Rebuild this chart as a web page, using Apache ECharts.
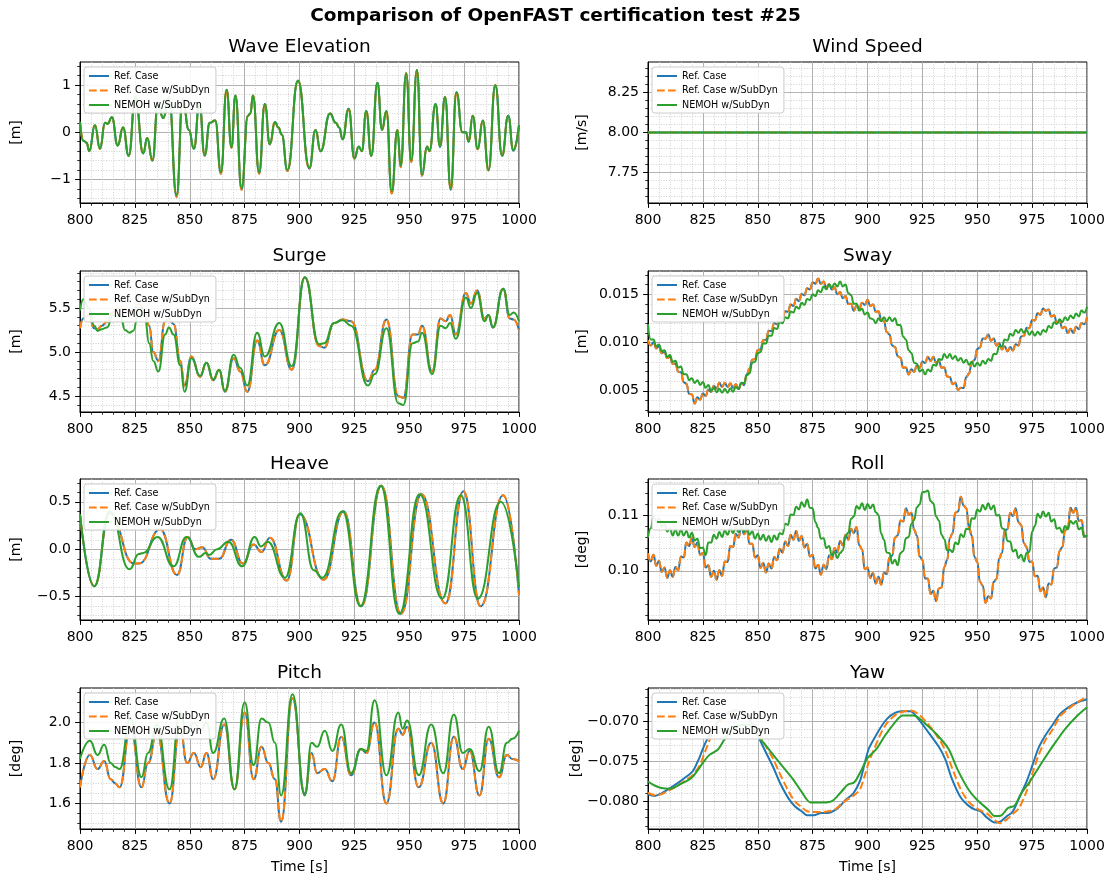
<!DOCTYPE html>
<html><head><meta charset="utf-8">
<script src="https://cdn.jsdelivr.net/npm/echarts@6/dist/echarts.min.js"></script>
<style>html,body{margin:0;padding:0;background:#fff}#c{width:1111px;height:878px}</style>
</head><body><div id="c"></div>
<script>
// ---------------- DATA ----------------
const seriesNames = ['Ref. Case', 'Ref. Case w/SubDyn', 'NEMOH w/SubDyn'];
const panelTitles = ['Wave Elevation', 'Wind Speed', 'Surge', 'Sway', 'Heave', 'Roll', 'Pitch', 'Yaw'];
const panelUnits = ['[m]', '[m/s]', '[m]', '[m]', '[m]', '[deg]', '[deg]', '[deg]'];
const xTickLabels = [800, 825, 850, 875, 900, 925, 950, 975, 1000];
const yMin = [-1.5, 7.56, 4.32, 0.0028, -0.745, 0.0911, 1.474, -0.0834];
const yMax = [1.49, 8.44, 5.92, 0.0174, 0.74, 0.1166, 2.171, -0.0659];
const yTicks = [[-1, 0, 1], [7.75, 8.0, 8.25], [4.5, 5.0, 5.5], [0.005, 0.010, 0.015], [-0.5, 0, 0.5], [0.10, 0.11], [1.6, 1.8, 2.0], [-0.080, -0.075, -0.070]];
const yDecimals = [0, 2, 1, 3, 1, 2, 1, 3];
const windMinorExtra = [7.6, 7.8, 8.2, 8.4];

// Wave elevation (turning points)
const waveT = [800,801.5,803,804.2,806.8,809.1,811.4,812.6,814.5,817.2,819.6,822.2,825.2,828.8,830.6,833,835.5,837.9,840.5,844,846.8,849.6,851.9,854.4,856.8,859.1,861.6,864.2,866.8,869,870.8,873.6,876.5,877.6,878.8,881.6,884.2,886.5,888.8,890.4,891.9,894.5,899.3,904.5,907.3,909.6,913.9,916.5,918.1,919.6,922.4,925,927,928.4,930.4,932.7,935.5,937.6,939.6,942,944.6,946.1,948.6,950.9,953.5,955.8,958.1,959.2,962,964,966.3,968.9,971.5,974.2,975.8,977.1,978.9,981.2,983.5,986.1,989.2,992.3,995.1,997.4,1000];
const waveRef = [0.22,-0.18,-0.22,-0.4,0.15,-0.35,0.2,0.18,0.32,-0.28,0.1,-0.5,0.75,-0.45,-0.12,-0.6,0.6,0.3,0.75,-1.37,0.7,0.05,-0.35,0.6,-0.5,0.2,0.25,-0.88,0.9,-0.33,0.78,-1.22,0.35,0.4,0.78,-0.88,0.6,-0.26,0.22,0.1,-0.05,-0.82,1.1,-0.77,0.05,-0.4,0.4,0.2,0.1,-0.15,0.5,-0.56,-0.3,-0.4,0.45,-0.5,1.05,0.05,0.45,-1.3,0.05,-0.74,1.25,-0.63,1.32,-0.92,-0.3,-0.4,0.6,-0.31,0.75,-1.22,0.85,0.0,0.0,-0.2,0.35,-0.36,0.25,-0.81,1.0,-0.5,0.35,-0.39,0.15];
const waveNemoh = [0.22,-0.18,-0.22,-0.4,0.15,-0.35,0.2,0.18,0.32,-0.28,0.1,-0.5,0.75,-0.45,-0.12,-0.6,0.6,0.3,0.75,-1.33,0.7,0.05,-0.35,0.6,-0.48,0.2,0.25,-0.85,0.9,-0.32,0.78,-1.18,0.35,0.4,0.78,-0.85,0.6,-0.25,0.22,0.1,-0.05,-0.8,1.1,-0.75,0.05,-0.4,0.4,0.2,0.1,-0.15,0.5,-0.55,-0.3,-0.4,0.45,-0.5,1.05,0.05,0.45,-1.25,0.05,-0.7,1.25,-0.6,1.32,-0.9,-0.3,-0.4,0.6,-0.3,0.75,-1.2,0.85,0.0,0.0,-0.2,0.35,-0.35,0.25,-0.8,1.0,-0.5,0.35,-0.38,0.15];

// Wind speed (constant)
const windT = [800, 1000];
const windRef = [8.0, 8.0];
const windSub = [8.0, 8.0];
const windNemoh = [8.0, 8.0];

// Surge
const surgeT = [800,801.5,804,806.5,808,810,812.3,815,818.5,820.5,822.6,824.2,827,829.5,831.5,833.4,835.7,838.8,840.5,842.6,845.7,847.6,850.8,854.7,857.6,860.7,863.4,866,870,873,876.2,880.7,884.2,890.8,896.5,902.4,908.9,911.2,915.8,919.6,923.5,931.2,934.3,939.6,945,947.3,951.5,954,955.8,960.4,964.3,966.6,968.6,971.2,975.8,978.1,980.9,984.3,986.1,988.1,992.8,995.8,997.5,1000];
const surgeRef = [5.27,5.38,5.42,5.27,5.26,5.3,5.34,5.45,5.5,5.48,5.45,5.47,5.55,5.45,5.3,5.0,4.9,5.35,5.38,5.32,4.9,4.62,4.95,4.72,4.88,4.68,4.8,4.55,4.93,4.78,4.55,5.13,4.85,5.25,4.8,5.85,5.07,5.05,5.33,5.37,5.35,4.67,4.8,5.37,4.5,4.48,5.2,5.2,5.3,4.78,5.38,5.35,5.42,5.2,5.67,5.55,5.7,5.38,5.42,5.28,5.72,5.38,5.37,5.25];
const surgeNemoh = [5.47,5.6,5.5,5.3,5.24,5.26,5.28,5.42,5.4,5.25,5.22,5.24,5.5,5.4,5.1,4.9,4.78,5.2,5.28,5.2,4.85,4.55,4.93,4.73,4.88,4.69,4.8,4.56,4.97,4.82,4.62,5.22,4.95,5.33,4.84,5.85,5.09,5.1,5.33,5.36,5.3,4.62,4.75,5.27,4.42,4.4,5.1,5.12,5.22,4.75,5.3,5.27,5.33,5.15,5.62,5.5,5.67,5.35,5.42,5.28,5.72,5.42,5.45,5.35];

const rippleT = Array.from({length: 161}, (_, k) => 800 + 1.25 * k);
const swayRef = [0.01022,0.00968,0.01002,0.00938,0.00962,0.00888,0.00902,0.00838,0.00852,0.00778,
0.00782,0.00698,0.00692,0.00588,0.00572,0.00468,0.00462,0.00368,0.00432,0.00408,
0.00472,0.00448,0.00512,0.00488,0.00552,0.00523,0.00582,0.00538,0.00582,0.00538,
0.00577,0.00528,0.00567,0.00518,0.00577,0.00558,0.00672,0.00728,0.00822,0.00828,
0.00922,0.00928,0.01022,0.01028,0.01122,0.01118,0.01202,0.01188,0.01262,0.01248,
0.01322,0.01318,0.01392,0.01378,0.01452,0.01428,0.01502,0.01488,0.01562,0.01548,
0.01622,0.01608,0.01662,0.01608,0.01632,0.01568,0.01602,0.01548,0.01572,0.01498,
0.01522,0.01458,0.01482,0.01398,0.01402,0.01328,0.01382,0.01348,0.01412,0.01388,
0.01442,0.01378,0.01392,0.01318,0.01322,0.01238,0.01222,0.01108,0.01082,0.00968,
0.00952,0.00858,0.00842,0.00738,0.00742,0.00668,0.00722,0.00698,0.00762,0.00738,
0.00802,0.00788,0.00852,0.00808,0.00852,0.00788,0.00812,0.00738,0.00742,0.00648,
0.00642,0.00568,0.00582,0.00508,0.00532,0.00528,0.00642,0.00678,0.00792,0.00818,
0.00932,0.00948,0.01042,0.01038,0.01082,0.01018,0.01042,0.00968,0.00992,0.00928,
0.00962,0.00908,0.00952,0.00918,0.00982,0.00968,0.01062,0.01068,0.01152,0.01148,
0.01232,0.01228,0.01302,0.01288,0.01352,0.01328,0.01342,0.01268,0.01282,0.01208,
0.01222,0.01148,0.01162,0.01098,0.01142,0.01098,0.01162,0.01138,0.01202,0.01188,
0.01262];
const swayNemoh = [0.0119,0.0103,0.0103,0.0096,0.0098,0.0091,0.0092,0.0085,0.0087,0.0080,
0.0081,0.0074,0.0075,0.0067,0.0067,0.0061,0.0063,0.0058,0.0061,0.0056,
0.0059,0.0053,0.0056,0.0050,0.0053,0.00485,0.0052,0.0048,0.0052,0.0048,
0.00525,0.0049,0.0054,0.0052,0.0058,0.0058,0.0066,0.0068,0.0079,0.0080,
0.0089,0.0090,0.0099,0.0099,0.0107,0.0107,0.0115,0.0114,0.0121,0.0120,
0.0126,0.0125,0.0132,0.0131,0.0137,0.0135,0.0141,0.0139,0.0145,0.0144,
0.0150,0.0148,0.0154,0.0152,0.0158,0.0155,0.0160,0.0157,0.0161,0.0158,
0.0163,0.0158,0.0160,0.0151,0.0149,0.0140,0.0140,0.0133,0.0135,0.0129,
0.0131,0.0125,0.0124,0.0120,0.0125,0.0122,0.0126,0.0122,0.0126,0.0122,
0.0125,0.0118,0.0118,0.0106,0.0103,0.0092,0.0089,0.0079,0.0078,0.0070,
0.0072,0.0067,0.0072,0.0070,0.0077,0.0076,0.0083,0.0082,0.0088,0.0084,
0.0088,0.0083,0.0086,0.0081,0.0084,0.0079,0.0082,0.0077,0.0080,0.0075,
0.0079,0.0076,0.0081,0.0078,0.0083,0.0081,0.0088,0.0088,0.0096,0.0096,
0.0103,0.0102,0.0109,0.0107,0.0113,0.0110,0.0114,0.0110,0.0113,0.0108,
0.01115,0.0107,0.0111,0.0108,0.0113,0.0111,0.0117,0.0115,0.0121,0.0119,
0.0124,0.0121,0.0126,0.0123,0.0128,0.0125,0.0130,0.0127,0.0133,0.0131,
0.0137];
const rollRef = [0.1032,0.1017,0.1029,0.1009,0.1018,0.0998,0.1006,0.0987,0.1001,0.0989,
0.1007,0.1001,0.1026,0.1024,0.1051,0.1045,0.1060,0.1043,0.1051,0.1029,
0.1032,0.1006,0.1010,0.0989,0.1000,0.0984,0.1001,0.0991,0.1017,0.1016,
0.1045,0.1043,0.1067,0.1060,0.1081,0.1066,0.1076,0.1049,0.1049,0.1024,
0.1028,0.1005,0.1014,0.0997,0.1013,0.1004,0.1025,0.1019,0.1040,0.1033,
0.1053,0.1045,0.1065,0.1056,0.1072,0.1054,0.1063,0.1042,0.1049,0.1026,
0.1029,0.1004,0.1011,0.0993,0.1011,0.1003,0.1028,0.1021,0.1041,0.1033,
0.1054,0.1046,0.1065,0.1056,0.1076,0.1068,0.1079,0.1046,0.1039,0.1003,
0.1006,0.0987,0.0996,0.0977,0.0989,0.0975,0.0997,0.0994,0.1024,0.1027,
0.1060,0.1064,0.1091,0.1089,0.1113,0.1102,0.1105,0.1074,0.1064,0.1026,
0.1020,0.0986,0.0986,0.0958,0.0964,0.0945,0.0968,0.0970,0.1007,0.1019,
0.1059,0.1068,0.1105,0.1107,0.1134,0.1118,0.1113,0.1078,0.1064,0.1025,
0.1016,0.0980,0.0973,0.0942,0.0954,0.0950,0.0980,0.0985,0.1022,0.1032,
0.1073,0.1075,0.1105,0.1099,0.1113,0.1088,0.1083,0.1050,0.1043,0.1016,
0.1017,0.0990,0.0991,0.0963,0.0970,0.0952,0.0977,0.0975,0.1004,0.1006,
0.1036,0.1043,0.1073,0.1078,0.1114,0.1105,0.1114,0.1090,0.1092,0.1063,
0.1061];
const rollNemoh = [0.1060,0.1077,0.1098,0.1089,0.1095,0.1079,0.1085,0.1071,0.1077,0.1064,
0.1074,0.1064,0.1074,0.1064,0.1072,0.1060,0.1069,0.1055,0.1058,0.1041,
0.1042,0.1028,0.1051,0.1051,0.1065,0.1058,0.1070,0.1061,0.1073,0.1065,
0.1077,0.1068,0.1080,0.1070,0.1080,0.1070,0.1080,0.1065,0.1071,0.1058,
0.1067,0.1056,0.1065,0.1054,0.1063,0.1052,0.1064,0.1056,0.1068,0.1066,
0.1085,0.1083,0.1102,0.1101,0.1116,0.1111,0.1124,0.1116,0.1129,0.1114,
0.1113,0.1088,0.1078,0.1058,0.1059,0.1041,0.1045,0.1028,0.1034,0.1023,
0.1032,0.1037,0.1063,0.1069,0.1094,0.1098,0.1117,0.1112,0.1122,0.1110,
0.1121,0.1113,0.1120,0.1106,0.1101,0.1067,0.1056,0.1033,0.1032,0.1013,
0.1020,0.1010,0.1032,0.1036,0.1059,0.1061,0.1085,0.1092,0.1115,0.1120,
0.1142,0.1143,0.1145,0.1126,0.1122,0.1098,0.1091,0.1065,0.1057,0.1037,
0.1038,0.1034,0.1051,0.1048,0.1066,0.1061,0.1076,0.1075,0.1095,0.1094,
0.1111,0.1107,0.1119,0.1111,0.1122,0.1111,0.1118,0.1100,0.1101,0.1077,
0.1075,0.1054,0.1053,0.1035,0.1038,0.1023,0.1029,0.1017,0.1032,0.1034,
0.1071,0.1081,0.1103,0.1096,0.1107,0.1098,0.1105,0.1089,0.1093,0.1076,
0.1078,0.1069,0.1081,0.1075,0.1090,0.1085,0.1090,0.1075,0.1078,0.1061,
0.1065];

// Heave
const heaveRefT = [800,806.5,813.5,824.5,827,836.5,844.2,849.1,852.5,855.7,859.6,863.4,868.8,874.2,879.1,882.7,886.5,894.2,900.1,911,920.1,928.1,937.3,946.2,955.5,966.5,974.7,982.5,992.8,1000];
const heaveRef = [0.37,-0.39,0.38,-0.15,-0.15,0.21,-0.27,0.13,0.0,0.02,-0.1,-0.1,0.1,-0.15,0.05,-0.03,0.12,-0.33,0.37,-0.32,0.4,-0.6,0.67,-0.68,0.58,-0.57,0.61,-0.6,0.57,-0.48];
const heaveNemohT = [800,806.5,813.5,822.6,826.8,828.8,835.3,842.6,848.5,854.2,857.3,858.8,862.5,867.6,873.9,879.6,882.4,885.5,893.4,900.4,906.5,910.4,919.6,927.8,937,945.5,954.7,965,973.5,981.2,991.7,1000];
const heaveNemoh = [0.37,-0.39,0.4,-0.21,-0.05,-0.04,0.13,-0.18,0.13,-0.08,-0.04,-0.06,0.0,0.08,-0.18,0.13,0.03,0.08,-0.3,0.38,-0.22,-0.3,0.4,-0.6,0.67,-0.68,0.58,-0.52,0.57,-0.52,0.5,-0.4];

// Pitch
const pitchT = [800,804.5,808,811,814,816,818,823,828,831,835,840.8,845.5,848.8,851.9,855,857.6,860.7,865.7,870.4,875,879.1,882.7,885.8,888.8,891.6,896.8,902.4,905.5,908,911.5,915,919,923.5,928,930.5,934.2,939.6,945,947,949,954.3,960,965.5,970.3,974.4,977.5,982,986.2,990.9,994.5,997,1000];
const pitchRef = [1.68,1.84,1.77,1.81,1.72,1.70,1.68,1.98,1.68,1.80,1.95,1.60,1.98,1.80,1.85,1.78,1.85,1.72,1.99,1.67,2.05,1.72,1.88,1.80,1.72,1.51,2.12,1.65,1.85,1.75,1.77,1.71,1.93,1.74,1.87,1.85,2.00,1.60,1.97,1.94,1.98,1.68,1.90,1.60,1.93,1.77,1.86,1.64,1.92,1.73,1.84,1.82,1.81];
const pitchNemoh = [1.82,1.91,1.84,1.89,1.80,1.78,1.77,2.02,1.73,1.85,1.99,1.67,2.05,1.95,2.00,1.96,2.00,1.85,2.02,1.67,2.10,1.79,2.02,2.00,1.90,1.64,2.14,1.64,1.90,1.88,1.96,1.86,1.99,1.75,1.87,1.86,2.11,1.74,2.05,1.97,2.01,1.74,1.99,1.75,2.04,1.85,1.87,1.76,1.98,1.75,1.90,1.92,1.96];

// Yaw
const yawT = [800,803,806,809,813,818,820.5,823.5,826,830,835,840,845,850,853,857,860,864,867,870,872.5,875.5,879,882,885,888,890,893.5,896.5,898.5,900.5,903,906,909,912.5,915.5,919.5,923,928,932.5,935.5,938.5,942.5,946,949,951.5,954.5,958,960.5,963.5,966,969,972.5,975.5,978,981,984.5,987.5,991,995.5,1000];
const yawRef = [-0.0791,-0.0793,-0.079,-0.0785,-0.0778,-0.0768,-0.0762,-0.0745,-0.0728,-0.0708,-0.0692,-0.0687,-0.0693,-0.0718,-0.0735,-0.0757,-0.0776,-0.0796,-0.0806,-0.0812,-0.0817,-0.0817,-0.0814,-0.0814,-0.0811,-0.0804,-0.0798,-0.079,-0.0775,-0.0755,-0.0735,-0.0722,-0.0708,-0.0697,-0.069,-0.0688,-0.0688,-0.0697,-0.0715,-0.0732,-0.0748,-0.0772,-0.0795,-0.0805,-0.081,-0.0812,-0.082,-0.0826,-0.0825,-0.0818,-0.0813,-0.0796,-0.0775,-0.0752,-0.0733,-0.0718,-0.0704,-0.0692,-0.0684,-0.0677,-0.0673];
const yawSub = [-0.0789,-0.0792,-0.0791,-0.0787,-0.0781,-0.0772,-0.0767,-0.0755,-0.0738,-0.0712,-0.0695,-0.0688,-0.0690,-0.0712,-0.0728,-0.0747,-0.0765,-0.0787,-0.0800,-0.0807,-0.0812,-0.0813,-0.0813,-0.0812,-0.0810,-0.0803,-0.0799,-0.0793,-0.0785,-0.0770,-0.0752,-0.0735,-0.0716,-0.0702,-0.0693,-0.0689,-0.0687,-0.0691,-0.0705,-0.0722,-0.0737,-0.0758,-0.0785,-0.0800,-0.0807,-0.0811,-0.0815,-0.0823,-0.0827,-0.0822,-0.0816,-0.0808,-0.0787,-0.0762,-0.0742,-0.0724,-0.0710,-0.0695,-0.0686,-0.0677,-0.0670];
const yawNemohT = [800,803,806,810,815,820,825,828,832,835,838,842,846,850,855,860,866,870,874,877,880,884,888,891,894,897,900,904,908,913,916,921,927,932,937,941,946,950,955,958,961,964,967,970,974,977,981,986,990,995,1000];
const yawNemoh = [-0.0775,-0.078,-0.0783,-0.0784,-0.0778,-0.0770,-0.0752,-0.0742,-0.0735,-0.0722,-0.0712,-0.0705,-0.0705,-0.0718,-0.0735,-0.0752,-0.0772,-0.0788,-0.0801,-0.0801,-0.0801,-0.0799,-0.0788,-0.0779,-0.0776,-0.0762,-0.0746,-0.0735,-0.0718,-0.0700,-0.0693,-0.0693,-0.0705,-0.0718,-0.0735,-0.0760,-0.0785,-0.0798,-0.0810,-0.0818,-0.0817,-0.0808,-0.0805,-0.0790,-0.0775,-0.0762,-0.0745,-0.0725,-0.0710,-0.0695,-0.0683];

// ---------------- BUILD ----------------
const pairs = (T, V) => T.map((t, i) => [t, V[i]]);
const panelData = [
  {s: [pairs(waveT, waveRef), pairs(waveT, waveRef), pairs(waveT, waveNemoh)], mode: 'peaks'},
  {s: [pairs(windT, windRef), pairs(windT, windSub), pairs(windT, windNemoh)], mode: 'flat'},
  {s: [pairs(surgeT, surgeRef), pairs(surgeT, surgeRef), pairs(surgeT, surgeNemoh)], mode: 'peaks'},
  {s: [pairs(rippleT, swayRef), pairs(rippleT, swayRef), pairs(rippleT, swayNemoh)], mode: 'peaks'},
  {s: [pairs(heaveRefT, heaveRef), pairs(heaveRefT, heaveRef), pairs(heaveNemohT, heaveNemoh)], mode: 'peaks'},
  {s: [pairs(rippleT, rollRef), pairs(rippleT, rollRef), pairs(rippleT, rollNemoh)], mode: 'peaks'},
  {s: [pairs(pitchT, pitchRef), pairs(pitchT, pitchRef), pairs(pitchT, pitchNemoh)], mode: 'peaks'},
  {s: [pairs(yawT, yawRef), pairs(yawT, yawSub), pairs(yawNemohT, yawNemoh)], mode: 'slow'}
];

const FONT = 'DejaVu Sans';
const colors = ['#1f77b4', '#ff7f0e', '#2ca02c'];
const lineTypes = ['solid', [7.7, 3.3], 'solid'];
const colLeft = [80, 648], rowTop = [62, 271, 479, 688], W = 439, H = 141;
const yAutoSplit = [3, 5, 3, 3, 3, 3, 3, 3];
const yMinorSplit = [5, 4, 5, 5, 5, 5, 4, 5];
const nameGaps = [57, 59];

const fmt = d => v => {
  let s = Math.abs(v) < 1e-12 ? (0).toFixed(d) : Number(v).toFixed(d);
  return s.replace('-', '\u2212');
};

const grids = [], xAxes = [], yAxes = [], legends = [], series = [];
const titles = [{
  text: 'Comparison of OpenFAST certification test #25', left: 'center', top: 7, padding: 0,
  textStyle: {fontSize: 18.5, fontWeight: 'bold', fontFamily: FONT, color: '#000'}
}];
const tickStyle = {color: '#000', width: 1};
for (let i = 0; i < 8; i++) {
  const col = i % 2, row = Math.floor(i / 2);
  const L = colLeft[col], T = rowTop[row];
  grids.push({left: L, top: T, width: W, height: H, show: true, borderColor: '#000', borderWidth: 1, backgroundColor: '#fff'});
  titles.push({text: panelTitles[i], left: L + W / 2, textAlign: 'center', top: T - 24, padding: 0,
    textStyle: {fontSize: 18.5, fontWeight: 'normal', fontFamily: FONT, color: '#000'}});
  xAxes.push({
    type: 'value', gridIndex: i, min: xTickLabels[0], max: xTickLabels[xTickLabels.length - 1],
    interval: xTickLabels[1] - xTickLabels[0],
    axisLine: {show: true, onZero: false, lineStyle: tickStyle},
    axisTick: {show: true, length: 4.9, lineStyle: tickStyle},
    minorTick: {show: true, splitNumber: 5, length: 2.8, lineStyle: {color: '#000', width: 0.8}},
    splitLine: {show: true, lineStyle: {color: '#b0b0b0', width: 1}},
    minorSplitLine: {show: true, lineStyle: {color: '#c4c4c4', width: 0.8, type: [1, 1.6]}},
    axisLabel: {color: '#000', fontSize: 14, fontFamily: FONT, margin: 10, formatter: v => String(v)},
    name: row === 3 ? 'Time [s]' : '', nameLocation: 'middle', nameGap: 31,
    nameTextStyle: {fontSize: 14, fontFamily: FONT, color: '#000'}
  });
  yAxes.push({
    type: 'value', gridIndex: i, position: 'left', min: yMin[i], max: yMax[i], splitNumber: yAutoSplit[i],
    axisLine: {show: true, onZero: false, lineStyle: tickStyle},
    axisTick: {show: true, length: 4.9, lineStyle: tickStyle, customValues: yTicks[i]},
    minorTick: {show: true, splitNumber: yMinorSplit[i], length: 2.8, lineStyle: {color: '#000', width: 0.8}},
    splitLine: {show: true, lineStyle: {color: '#b0b0b0', width: 1}},
    minorSplitLine: {show: true, lineStyle: {color: '#c4c4c4', width: 0.8, type: [1, 1.6]}},
    axisLabel: {color: '#000', fontSize: 14, fontFamily: FONT, margin: 9, customValues: yTicks[i], formatter: fmt(yDecimals[i])},
    name: panelUnits[i], nameLocation: 'middle', nameGap: nameGaps[col],
    nameTextStyle: {fontSize: 14, fontFamily: FONT, color: '#000'}
  });
  legends.push({
    left: L + 4, top: T + 5, orient: 'vertical', itemWidth: 20, itemHeight: 10, itemGap: 4.5, z: 20,
    padding: [4, 6, 3, 4], backgroundColor: 'rgba(255,255,255,0.9)', borderColor: '#cccccc', borderWidth: 1, borderRadius: 3,
    selectedMode: false, itemStyle: {opacity: 0, borderWidth: 0},
    textStyle: {fontSize: 9.6, fontFamily: FONT, color: '#000'}, data: seriesNames
  });
  const pd = panelData[i];
  for (let j = 0; j < 3; j++) {
    const s = {
      type: 'line', name: seriesNames[j], xAxisIndex: i, yAxisIndex: i, data: pd.s[j],
      symbol: 'none', showSymbol: false, animation: false, z: 2,
      color: colors[j], lineStyle: {color: colors[j], width: 2, type: lineTypes[j]}
    };
    if (pd.mode === 'peaks') { s.smooth = 0.5; s.smoothMonotone = 'x'; }
    else if (pd.mode === 'slow') { s.smooth = 0.3; }
    series.push(s);
  }
}
// extra minor grid lines for the wind panel (minor step 0.05)
yAxes.push({
  type: 'value', gridIndex: 1, position: 'left', offset: 0, min: yMin[1], max: yMax[1],
  axisLine: {show: false}, axisLabel: {show: false},
  axisTick: {show: true, length: 2.8, lineStyle: {color: '#000', width: 0.8}, customValues: windMinorExtra},
  splitLine: {show: true, lineStyle: {color: '#c4c4c4', width: 0.8, type: [1, 1.6]}}
});

const chart = echarts.init(document.getElementById('c'), null, {renderer: 'canvas'});
chart.setOption({
  animation: false, backgroundColor: '#fff',
  title: titles, grid: grids, xAxis: xAxes, yAxis: yAxes, legend: legends, series: series
});
</script></body></html>
